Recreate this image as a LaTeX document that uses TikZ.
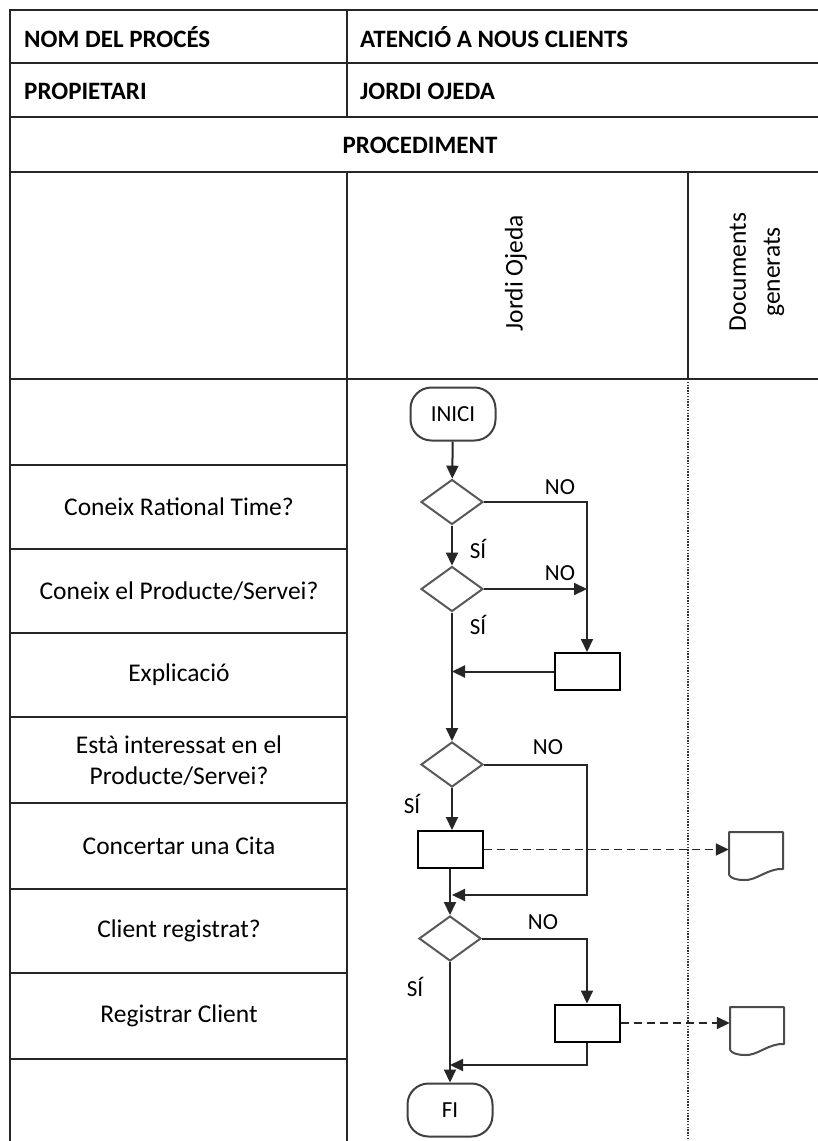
\documentclass[tikz,border=0pt]{standalone}
\usepackage{fontspec}
\setmainfont{Carlito}
\usetikzlibrary{shapes.geometric,arrows.meta}
\begin{document}
\begin{tikzpicture}[x=1pt,y=-1pt,
  rule/.style={line width=2pt, draw=black!85},
  flow/.style={line width=2pt, draw=black!85},
  arr/.style={flow, -{Triangle[length=13pt,width=12pt]}},
  docarr/.style={line width=1.7pt, draw=black!85, dash pattern=on 8pt off 5pt, -{Triangle[length=13pt,width=12pt]}},
  hdr/.style={font=\fontsize{25}{30}\selectfont\bfseries, anchor=west, inner sep=0pt},
  lane/.style={font=\fontsize{25.5}{31}\selectfont, align=center, inner sep=0pt},
  lbl/.style={font=\fontsize{23}{27}\selectfont, inner sep=0pt},
  term/.style={draw=black!75, line width=2pt, rounded corners=21pt, minimum width=85pt, minimum height=53pt, inner sep=0pt, font=\fontsize{23}{27}\selectfont},
  decision/.style={diamond, draw=black!65, line width=2pt, minimum width=62pt, minimum height=45pt, inner sep=0pt},
  task/.style={rectangle, draw=black, line width=2pt, minimum width=65pt, minimum height=37pt, inner sep=0pt},
  docbox/.style={rectangle, minimum width=54pt, minimum height=42pt, inner sep=0pt},
  docshape/.pic={
    \draw[line width=2pt, draw=black!70, line join=round]
      (-27,22) -- (-27,-21) -- (27,-21) -- (27,16)
      .. controls (12,15) and (0,28) .. (-12,27)
      .. controls (-20,27) and (-25,25) .. (-27,22);
  }
]
\useasboundingbox (0,0) rectangle (817,1141);
\fill[white] (0,0) rectangle (817,1141);

% table frame
\draw[rule] (10,10) -- (830,10);
\draw[rule] (10,63) -- (830,63);
\draw[rule] (10,117) -- (830,117);
\draw[rule] (10,172) -- (830,172);
\draw[rule] (10,379) -- (830,379);
\draw[rule] (10,9) -- (10,1150);
\draw[rule] (347,10) -- (347,117);
\draw[rule] (347,172) -- (347,1150);
\draw[rule] (688,172) -- (688,379);
\draw[line width=1.5pt, draw=black!80, dash pattern=on 1.4pt off 1.4pt] (688,379) -- (688,1150);
\foreach \yy in {465,549,633,717,803,889,973,1059}
  \draw[rule] (10,\yy) -- (347,\yy);

% header texts
\node[hdr] (t1) at (24,37) {NOM DEL PROCÉS};
\node[hdr] (t2) at (360,37) {ATENCIÓ A NOUS CLIENTS};
\node[hdr] (t3) at (24,91) {PROPIETARI};
\node[hdr] (t4) at (360,91) {JORDI OJEDA};
\node[hdr, anchor=center] (t5) at (420,145) {PROCEDIMENT};
\node[lane, rotate=90] (c1) at (516,273) {Jordi Ojeda};
\node[lane, rotate=90, font=\fontsize{25.5}{34}\selectfont] (c2) at (757,272) {Documents\\generats};

% lane names
\node[lane] (l1) at (179,507) {Coneix Rational Time?};
\node[lane] (l2) at (179,591) {Coneix el Producte/Servei?};
\node[lane] (l3) at (179,675) {Explicació};
\node[lane, font=\fontsize{25.5}{31}\selectfont] (l4) at (179,761) {Està interessat en el\\Producte/Servei?};
\node[lane] (l5) at (179,846) {Concertar una Cita};
\node[lane] (l6) at (179,931) {Client registrat?};
\node[lane] (l7) at (179,1016) {Registrar Client};

% flow nodes
\node[term] (start) at (453,414) {INICI};
\node[decision] (d1) at (452,502) {};
\node[decision] (d2) at (452,589) {};
\node[task] (b1) at (587,671.5) {};
\node[decision] (d3) at (452,764.5) {};
\node[task] (b2) at (450,849.5) {};
\node[decision] (d4) at (450,938.5) {};
\node[task] (b3) at (587,1023) {};
\node[term] (fi) at (450,1110) {FI};
\node[docbox] (doc1) at (756,853) {};
\node[docbox] (doc2) at (757,1028) {};
\pic at (doc1) {docshape};
\pic at (doc2) {docshape};

\coordinate (n1) at (587,895);
\coordinate (m1) at (452,895);
\coordinate (m2) at (450,1065);

% connectors
\draw[arr] (start) -- (d1);
\draw[arr] (d1) -- (d2);
\draw[arr] (d1.east) -| (b1.north);
\draw[arr] (d2.east) -- (d2.east -| b1.north);
\draw[arr] (d2.south) -- (d3.north);
\draw[arr] (b1.west) -- (b1.west -| d2.south);
\draw[arr] (d3.east) -| (n1) -- (m1);
\draw[arr] (d3.south) -- (d3.south |- b2.north);
\draw[arr] (b2.south) -- (d4.north);
\draw[arr] (d4.east) -| (b3.north);
\draw[arr] (d4.south) -- (fi.north);
\draw[arr] (b3.south) |- (m2);
\draw[docarr] (b2.east) -- (b2.east -| doc1.west);
\draw[docarr] (b3.east) -- (b3.east -| doc2.west);

% branch labels
\node[lbl] (no1) at (560,487) {NO};
\node[lbl] (si1) at (478,549) {SÍ};
\node[lbl] (no2) at (560,573) {NO};
\node[lbl] (si2) at (478,625) {SÍ};
\node[lbl] (no3) at (548,747) {NO};
\node[lbl] (si3) at (412,804) {SÍ};
\node[lbl] (no4) at (543,922) {NO};
\node[lbl] (si4) at (415,987) {SÍ};
\end{tikzpicture}
\end{document}
